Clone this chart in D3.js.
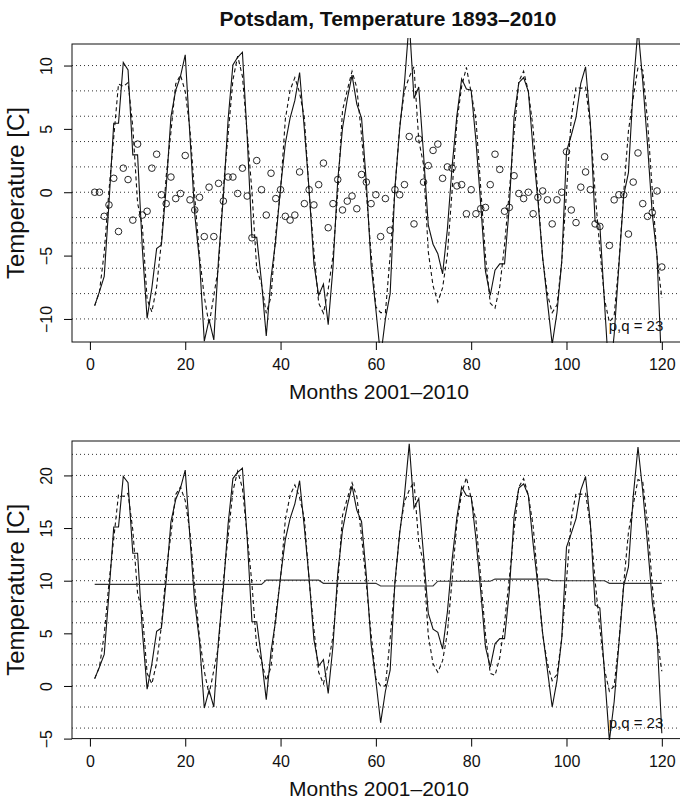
<!DOCTYPE html>
<html>
<head>
<meta charset="utf-8">
<script src="https://cdn.jsdelivr.net/npm/d3@7"></script>
<style>
  body { margin: 0; background: #fff; }
  text { font-family: "Liberation Sans", Arial, Helvetica, sans-serif; fill: #111; }
</style>
</head>
<body>
<svg id="chart" width="680" height="809"></svg>
<script>

// months 1..120 (2001-2010)
var months = d3.range(1, 121);

// monthly mean temperature [C]
var observed = [0.7,1.8,3.0,8.8,15.1,15.1,19.9,19.3,12.6,12.6,5.2,-0.3,
  2.1,5.2,5.5,10.0,15.6,17.7,18.8,20.5,14.0,7.9,4.2,-2.1,
  -0.4,-2.0,4.5,9.3,15.4,19.7,20.3,20.7,14.0,6.1,6.1,2.6,
  -1.3,3.3,6.3,10.4,13.9,15.9,17.3,19.5,15.0,10.2,4.4,1.9,
  2.5,-0.7,3.8,10.7,14.8,17.1,19.0,16.7,15.6,10.5,4.0,0.5,
  -3.5,-0.5,1.5,9.9,14.5,18.1,23.0,16.9,17.8,12.5,6.9,5.4,
  5.1,3.5,7.0,12.0,16.0,18.9,18.1,18.0,14.0,9.0,3.7,1.8,
  4.0,4.5,4.5,9.0,16.1,18.8,19.2,18.1,13.5,9.5,5.0,1.5,
  -2.0,0.5,4.5,13.2,14.5,15.9,18.6,19.9,15.5,7.7,7.4,1.1,
  -5.2,-1.5,4.0,9.5,11.3,18.0,22.7,18.5,13.5,8.0,4.7,-4.5];

// fitted model (dashed), lower panel
var fitted = [0.7,1.8,4.9,9.8,14.0,18.2,18.0,18.3,14.8,8.8,7.0,1.2,
  0.2,2.2,5.7,10.9,14.4,18.2,18.9,17.6,14.6,9.3,4.6,1.4,
  -0.8,1.5,3.8,10.0,14.2,18.5,20.4,18.8,14.3,9.7,3.6,2.4,
  0.5,1.8,6.8,10.2,15.8,18.1,19.1,17.9,15.9,10.0,5.4,1.3,
  0.2,2.1,4.7,9.7,16.2,17.8,19.3,18.0,14.2,9.7,4.9,0.7,
  0.0,0.0,4.5,9.7,14.7,17.5,18.6,19.4,13.6,11.7,4.8,2.1,
  1.3,2.4,5.0,10.1,15.5,18.3,19.8,17.8,15.7,10.3,4.9,1.2,
  1.0,2.7,6.0,10.2,14.8,18.9,19.7,18.1,15.2,9.9,4.9,2.1,
  0.5,1.1,4.5,10.0,15.9,18.3,18.2,18.3,15.3,10.0,5.5,1.5,
  -0.5,0.0,4.2,9.7,14.6,17.2,19.6,19.4,15.4,9.6,4.6,1.4];

// long term level (solid, nearly flat), lower panel
var trend = [9.65,9.65,9.65,9.65,9.65,9.65,9.65,9.65,9.65,9.65,9.65,9.65,
  9.65,9.65,9.65,9.65,9.65,9.65,9.65,9.65,9.65,9.65,9.65,9.65,
  9.65,9.65,9.65,9.65,9.65,9.65,9.65,9.65,9.65,9.65,9.65,9.65,
  10.05,10.05,10.05,10.05,10.05,10.05,10.05,10.05,10.05,10.05,10.05,10.05,
  9.75,9.75,9.75,9.75,9.75,9.75,9.75,9.75,9.75,9.75,9.75,9.75,
  9.5,9.5,9.5,9.5,9.5,9.5,9.5,9.5,9.5,9.5,9.5,9.5,
  9.95,9.95,9.95,9.95,9.95,9.95,9.95,9.95,9.95,9.95,9.95,9.95,
  10.15,10.15,10.15,10.15,10.15,10.15,10.15,10.15,10.15,10.15,10.15,10.15,
  10.0,10.0,10.0,10.0,10.0,10.0,10.0,10.0,10.0,10.0,10.0,10.0,
  9.75,9.75,9.75,9.75,9.75,9.75,9.75,9.75,9.75,9.75,9.75,9.75];

// upper panel: temperature minus level (solid)
var anomaly = [-8.95,-7.85,-6.65,-0.85,5.45,5.45,10.25,9.65,2.95,2.95,-4.45,-9.95,
  -7.55,-4.45,-4.15,0.35,5.95,8.05,9.15,10.85,4.35,-1.75,-5.45,-11.75,
  -10.05,-11.65,-5.15,-0.35,5.75,10.05,10.65,11.05,4.35,-3.55,-3.55,-7.05,
  -11.35,-6.75,-3.75,0.35,3.85,5.85,7.25,9.45,4.95,0.15,-5.65,-8.15,
  -7.25,-10.45,-5.95,0.95,5.05,7.35,9.25,6.95,5.85,0.75,-5.75,-9.25,
  -13.0,-10.0,-8.0,0.4,5.0,8.6,13.5,7.4,8.3,3.0,-2.6,-4.1,
  -4.85,-6.45,-2.95,2.05,6.05,8.95,8.15,8.05,4.05,-0.95,-6.25,-8.15,
  -6.15,-5.65,-5.65,-1.15,5.95,8.65,9.05,7.95,3.35,-0.65,-5.15,-8.65,
  -12.0,-9.5,-5.5,3.2,4.5,5.9,8.6,9.9,5.5,-2.3,-2.6,-8.9,
  -14.95,-11.25,-5.75,-0.25,1.55,8.25,12.95,8.75,3.75,-1.75,-5.05,-14.25];

// upper panel: fitted model minus level (dashed)
var anomalyFit = [-8.95,-7.85,-4.75,0.15,4.35,8.55,8.35,8.65,5.15,-0.85,-2.65,-8.45,
  -9.45,-7.45,-3.95,1.25,4.75,8.55,9.25,7.95,4.95,-0.35,-5.05,-8.25,
  -10.45,-8.15,-5.85,0.35,4.55,8.85,10.75,9.15,4.65,0.05,-6.05,-7.25,
  -9.55,-8.25,-3.25,0.15,5.75,8.05,9.05,7.85,5.85,-0.05,-4.65,-8.75,
  -9.55,-7.65,-5.05,-0.05,6.45,8.05,9.55,8.25,4.45,-0.05,-4.85,-9.05,
  -9.5,-9.5,-5.0,0.2,5.2,8.0,9.1,9.9,4.1,2.2,-4.7,-7.4,
  -8.65,-7.55,-4.95,0.15,5.55,8.35,9.85,7.85,5.75,0.35,-5.05,-8.75,
  -9.15,-7.45,-4.15,0.05,4.65,8.75,9.55,7.95,5.05,-0.25,-5.25,-8.05,
  -9.5,-8.9,-5.5,0.0,5.9,8.3,8.2,8.3,5.3,0.0,-4.5,-8.5,
  -10.25,-9.75,-5.55,-0.05,4.85,7.45,9.85,9.65,5.65,0.15,-5.15,-8.35];

// upper panel: residuals (circles)
var residuals = [0.0,0.0,-1.9,-1.0,1.1,-3.1,1.9,1.0,-2.2,3.8,-1.8,-1.5,
  1.9,3.0,-0.2,-0.9,1.2,-0.5,-0.1,2.9,-0.6,-1.4,-0.4,-3.5,
  0.4,-3.5,0.7,-0.7,1.2,1.2,-0.1,1.9,-0.3,-3.6,2.5,0.2,
  -1.8,1.5,-0.5,0.2,-1.9,-2.2,-1.8,1.6,-0.9,0.2,-1.0,0.6,
  2.3,-2.8,-0.9,1.0,-1.4,-0.7,-0.3,-1.3,1.4,0.8,-0.9,-0.2,
  -3.5,-0.5,-3.0,0.2,-0.2,0.6,4.4,-2.5,4.2,0.8,2.1,3.3,
  3.8,1.1,2.0,1.9,0.5,0.6,-1.7,0.2,-1.7,-1.3,-1.2,0.6,
  3.0,1.8,-1.5,-1.2,1.3,-0.1,-0.5,0.0,-1.7,-0.4,0.1,-0.6,
  -2.5,-0.6,0.0,3.2,-1.4,-2.4,0.4,1.6,0.2,-2.5,-2.7,2.8,
  -4.2,-0.6,-0.2,-0.2,-3.3,0.8,3.1,-0.9,-1.9,-1.6,0.1,-5.9];

var xTicks = [0, 20, 40, 60, 80, 100, 120];
var topTicks = [-10, -5, 0, 5, 10];
var topGrid = d3.range(-10, 11, 2);
var bottomTicks = [-5, 0, 5, 10, 15, 20];
var bottomGrid = d3.range(-4, 23, 2);

var svg = d3.select("#chart");

var x = d3.scaleLinear().domain([-3.76, 124.76]).range([72, 684.5]);

function fmt(v) { return v < 0 ? "\u2212" + Math.abs(v) : String(v); }

svg.append("text")
  .attr("x", 388).attr("y", 26)
  .attr("text-anchor", "middle")
  .style("font-size", "21px").style("font-weight", "bold")
  .text("Potsdam, Temperature 1893\u20132010");

function panel(id, top, bottom, ydomain, ticks, grid, clipTop, clipBottom) {
  var y = d3.scaleLinear().domain(ydomain).range([bottom, top]);
  var g = svg.append("g").attr("class", id);

  svg.append("clipPath").attr("id", "clip-" + id)
    .append("rect").attr("x", x.range()[0]).attr("y", clipTop)
    .attr("width", 700).attr("height", clipBottom - clipTop);

  // dotted grid
  g.selectAll("line.grid").data(grid).enter().append("line")
    .attr("class", "grid")
    .attr("x1", x.range()[0]).attr("x2", x.range()[1])
    .attr("y1", function(d){ return y(d); }).attr("y2", function(d){ return y(d); })
    .attr("stroke", "#333").attr("stroke-width", 1)
    .attr("stroke-dasharray", "1,3");

  // box
  g.append("rect")
    .attr("x", x.range()[0]).attr("y", top)
    .attr("width", x.range()[1] - x.range()[0]).attr("height", bottom - top)
    .attr("fill", "none").attr("stroke", "#111").attr("stroke-width", 1);

  // x axis
  var xa = g.append("g").attr("transform", "translate(0," + bottom + ")")
    .call(d3.axisBottom(x).tickValues(xTicks).tickSize(8).tickPadding(9).tickFormat(fmt));
  xa.select(".domain").remove();
  xa.selectAll("text").style("font-size", "16px").attr("fill", "#111");

  // y axis
  var ya = g.append("g").attr("transform", "translate(" + x.range()[0] + ",0)")
    .call(d3.axisLeft(y).tickValues(ticks).tickSize(8).tickFormat(fmt));
  ya.select(".domain").remove();
  ya.selectAll("text")
    .attr("x", null).attr("dy", null)
    .attr("text-anchor", "middle")
    .attr("transform", "translate(-26,0) rotate(-90)")
    .attr("dy", "0.35em")
    .style("font-size", "16px").attr("fill", "#111");

  g.append("text")
    .attr("transform", "translate(24," + ((top + bottom) / 2) + ") rotate(-90)")
    .attr("text-anchor", "middle")
    .style("font-size", "24px")
    .text("Temperature [C]");

  g.append("text")
    .attr("x", 379).attr("y", bottom + 57)
    .attr("text-anchor", "middle")
    .style("font-size", "21px")
    .text("Months 2001\u20132010");

  g.append("text")
    .attr("x", 636).attr("y", bottom - 11)
    .attr("text-anchor", "middle")
    .style("font-size", "15px")
    .text("p,q = 23");

  var plot = g.append("g").attr("clip-path", "url(#clip-" + id + ")");
  return { y: y, plot: plot };
}

function addLine(p, values, dash, colour) {
  var line = d3.line()
    .x(function(d, i){ return x(months[i]); })
    .y(function(d){ return p.y(d); });
  p.plot.append("path")
    .datum(values)
    .attr("d", line)
    .attr("fill", "none")
    .attr("stroke", colour || "#111")
    .attr("stroke-width", 1.1)
    .attr("stroke-dasharray", dash || null);
}

// upper panel
var p1 = panel("upper", 44, 342, [-11.82, 11.70], topTicks, topGrid, 38, 343);
addLine(p1, anomalyFit, "4,3");
addLine(p1, anomaly);
p1.plot.selectAll("circle").data(residuals).enter().append("circle")
  .attr("cx", function(d, i){ return x(months[i]); })
  .attr("cy", function(d){ return p1.y(d); })
  .attr("r", 3.3)
  .attr("fill", "none").attr("stroke", "#111").attr("stroke-width", 0.9);

// lower panel
var p2 = panel("lower", 441, 738.6, [-5, 23.27], bottomTicks, bottomGrid, 434, 740);
addLine(p2, fitted, "4,3");
addLine(p2, observed);
addLine(p2, trend, null, "#333");

</script>
</body>
</html>
